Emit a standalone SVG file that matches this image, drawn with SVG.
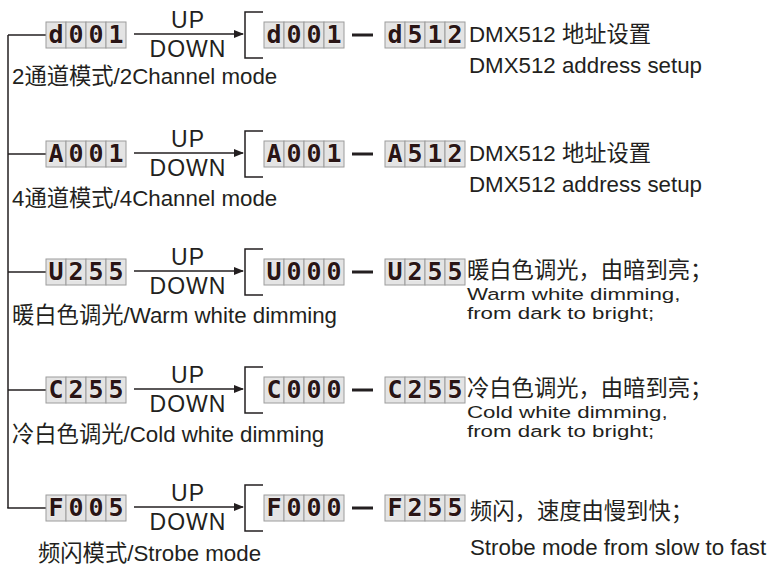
<svg xmlns="http://www.w3.org/2000/svg" width="775" height="570" viewBox="0 0 775 570">
<style>
.t{font-family:"Liberation Sans","Noto Sans CJK SC",Arial,sans-serif;font-size:22.3px;fill:#231f20}
.tt{font-family:"Liberation Sans","Noto Sans CJK SC",Arial,sans-serif;font-size:22.3px;fill:#231f20}
.ud{font-family:"Liberation Sans",Arial,sans-serif;font-size:23px;letter-spacing:1px;fill:#231f20;text-anchor:middle}
.cell{fill:#e4e4e4;stroke:#9c9c9c;stroke-width:1}
.seg{font-family:"DejaVu Sans Mono","Liberation Mono",monospace;font-weight:bold;font-size:25px;fill:#2a1515;text-anchor:middle;stroke:#ffffff;stroke-width:0.6;paint-order:stroke}
.ln{stroke:#231f20;stroke-width:1.5;fill:none}
.dash{stroke:#231f20;stroke-width:3}
</style>
<defs>
<marker id="ah" markerWidth="10" markerHeight="8" refX="9" refY="4" orient="auto" markerUnits="userSpaceOnUse">
<path d="M0,0 L10,4 L0,8 Z" fill="#231f20"/>
</marker>
<g id="cells">
<rect class="cell" x="0" y="0" width="20" height="26"/>
<rect class="cell" x="20" y="0" width="20" height="26"/>
<rect class="cell" x="40" y="0" width="20" height="26"/>
<rect class="cell" x="60" y="0" width="20" height="26"/>
</g>
</defs>

<g id="connectors">
<line class="ln" x1="8" y1="35" x2="8" y2="508"/>
<line class="ln" x1="8" y1="35" x2="46" y2="35"/>
<line class="ln" x1="8" y1="154" x2="46" y2="154"/>
<line class="ln" x1="8" y1="272" x2="46" y2="272"/>
<line class="ln" x1="8" y1="390" x2="46" y2="390"/>
<line class="ln" x1="7.25" y1="508" x2="46" y2="508"/>
<line class="ln" x1="134" y1="34" x2="243" y2="34" marker-end="url(#ah)"/>
<line class="ln" x1="134" y1="153" x2="243" y2="153" marker-end="url(#ah)"/>
<line class="ln" x1="134" y1="271" x2="243" y2="271" marker-end="url(#ah)"/>
<line class="ln" x1="134" y1="389" x2="243" y2="389" marker-end="url(#ah)"/>
<line class="ln" x1="134" y1="507" x2="243" y2="507" marker-end="url(#ah)"/>
<path class="ln" d="M263,12 H245 V58 H263"/>
<path class="ln" d="M263,131 H245 V177 H263"/>
<path class="ln" d="M263,249 H245 V295 H263"/>
<path class="ln" d="M263,367 H245 V413 H263"/>
<path class="ln" d="M263,485 H245 V531 H263"/>
<line class="dash" x1="352" y1="35" x2="373" y2="35"/>
<line class="dash" x1="352" y1="154" x2="373" y2="154"/>
<line class="dash" x1="352" y1="272" x2="373" y2="272"/>
<line class="dash" x1="352" y1="390" x2="373" y2="390"/>
<line class="dash" x1="352" y1="508" x2="373" y2="508"/>
</g>

<!-- Row 1 -->
<g id="row1">
<g id="d001a" transform="translate(46,22)"><use href="#cells"/><text class="seg" x="10" y="21">d</text><text class="seg" x="30" y="21">0</text><text class="seg" x="50" y="21">0</text><text class="seg" x="70" y="21">1</text></g>
<text class="ud" x="188" y="28">UP</text>
<text class="ud" x="188" y="57">DOWN</text>
<text class="t" x="12" y="84">2通道模式/2Channel mode</text>
<g id="d001b" transform="translate(264,22)"><use href="#cells"/><text class="seg" x="10" y="21">d</text><text class="seg" x="30" y="21">0</text><text class="seg" x="50" y="21">0</text><text class="seg" x="70" y="21">1</text></g>
<g id="d512" transform="translate(385,22)"><use href="#cells"/><text class="seg" x="10" y="21">d</text><text class="seg" x="30" y="21">5</text><text class="seg" x="50" y="21">1</text><text class="seg" x="70" y="21">2</text></g>
<text class="t" x="469" y="42">DMX512 地址设置</text>
<text class="t" x="469" y="73">DMX512 address setup</text>
</g>

<!-- Row 2 -->
<g id="row2">
<g id="A001a" transform="translate(46,141)"><use href="#cells"/><text class="seg" x="10" y="21">A</text><text class="seg" x="30" y="21">0</text><text class="seg" x="50" y="21">0</text><text class="seg" x="70" y="21">1</text></g>
<text class="ud" x="188" y="147">UP</text>
<text class="ud" x="188" y="176">DOWN</text>
<text class="t" x="12" y="206">4通道模式/4Channel mode</text>
<g id="A001b" transform="translate(264,141)"><use href="#cells"/><text class="seg" x="10" y="21">A</text><text class="seg" x="30" y="21">0</text><text class="seg" x="50" y="21">0</text><text class="seg" x="70" y="21">1</text></g>
<g id="A512" transform="translate(385,141)"><use href="#cells"/><text class="seg" x="10" y="21">A</text><text class="seg" x="30" y="21">5</text><text class="seg" x="50" y="21">1</text><text class="seg" x="70" y="21">2</text></g>
<text class="t" x="469" y="161">DMX512 地址设置</text>
<text class="t" x="469" y="192">DMX512 address setup</text>
</g>

<!-- Row 3 -->
<g id="row3">
<g id="U255a" transform="translate(46,259)"><use href="#cells"/><text class="seg" x="10" y="21">U</text><text class="seg" x="30" y="21">2</text><text class="seg" x="50" y="21">5</text><text class="seg" x="70" y="21">5</text></g>
<text class="ud" x="188" y="265">UP</text>
<text class="ud" x="188" y="294">DOWN</text>
<text class="t" x="12" y="323">暖白色调光/Warm white dimming</text>
<g id="U000" transform="translate(264,259)"><use href="#cells"/><text class="seg" x="10" y="21">U</text><text class="seg" x="30" y="21">0</text><text class="seg" x="50" y="21">0</text><text class="seg" x="70" y="21">0</text></g>
<g id="U255b" transform="translate(385,259)"><use href="#cells"/><text class="seg" x="10" y="21">U</text><text class="seg" x="30" y="21">2</text><text class="seg" x="50" y="21">5</text><text class="seg" x="70" y="21">5</text></g>
<text class="t" x="467" y="278">暖白色调光，由暗到亮；</text>
<text class="tt" transform="translate(467,300) scale(1,0.74)">Warm white dimming,</text>
<text class="tt" transform="translate(467,319) scale(1,0.74)">from dark to bright;</text>
</g>

<!-- Row 4 -->
<g id="row4">
<g id="C255a" transform="translate(46,377)"><use href="#cells"/><text class="seg" x="10" y="21">C</text><text class="seg" x="30" y="21">2</text><text class="seg" x="50" y="21">5</text><text class="seg" x="70" y="21">5</text></g>
<text class="ud" x="188" y="383">UP</text>
<text class="ud" x="188" y="412">DOWN</text>
<text class="t" x="12" y="442">冷白色调光/Cold white dimming</text>
<g id="C000" transform="translate(264,377)"><use href="#cells"/><text class="seg" x="10" y="21">C</text><text class="seg" x="30" y="21">0</text><text class="seg" x="50" y="21">0</text><text class="seg" x="70" y="21">0</text></g>
<g id="C255b" transform="translate(385,377)"><use href="#cells"/><text class="seg" x="10" y="21">C</text><text class="seg" x="30" y="21">2</text><text class="seg" x="50" y="21">5</text><text class="seg" x="70" y="21">5</text></g>
<text class="t" x="467" y="396">冷白色调光，由暗到亮；</text>
<text class="tt" transform="translate(467,418) scale(1,0.74)">Cold white dimming,</text>
<text class="tt" transform="translate(467,437) scale(1,0.74)">from dark to bright;</text>
</g>

<!-- Row 5 -->
<g id="row5">
<g id="F005" transform="translate(46,495)"><use href="#cells"/><text class="seg" x="10" y="21">F</text><text class="seg" x="30" y="21">0</text><text class="seg" x="50" y="21">0</text><text class="seg" x="70" y="21">5</text></g>
<text class="ud" x="188" y="501">UP</text>
<text class="ud" x="188" y="530">DOWN</text>
<text class="t" x="38" y="561">频闪模式/Strobe mode</text>
<g id="F000" transform="translate(264,495)"><use href="#cells"/><text class="seg" x="10" y="21">F</text><text class="seg" x="30" y="21">0</text><text class="seg" x="50" y="21">0</text><text class="seg" x="70" y="21">0</text></g>
<g id="F255" transform="translate(385,495)"><use href="#cells"/><text class="seg" x="10" y="21">F</text><text class="seg" x="30" y="21">2</text><text class="seg" x="50" y="21">5</text><text class="seg" x="70" y="21">5</text></g>
<text class="t" x="470" y="519">频闪，速度由慢到快；</text>
<text class="t" x="470" y="555">Strobe mode from slow to fast</text>
</g>
</svg>
